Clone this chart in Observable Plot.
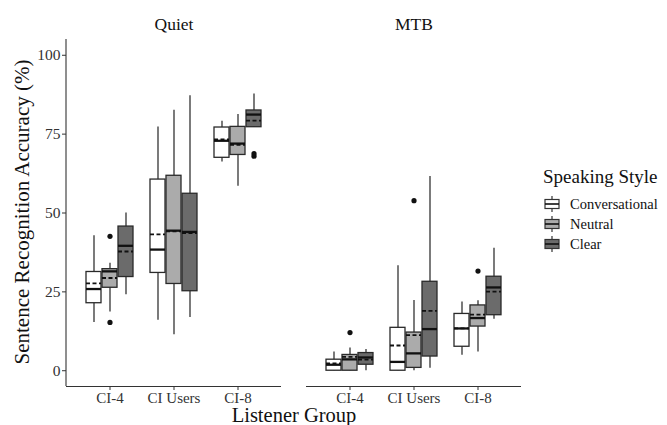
<!DOCTYPE html>
<html>
<head>
<meta charset="utf-8">
<script src="https://cdn.jsdelivr.net/npm/d3@7"></script>
<script src="https://cdn.jsdelivr.net/npm/@observablehq/plot@0.6"></script>
<style>
  body { margin: 0; background: #fff; }
  #wrap { position: relative; width: 667px; height: 425px; font-family: "Liberation Serif", "Times New Roman", serif; color: #111; }
  #wrap > svg { position: absolute; left: 0; top: 0; }
  .ytitle { position: absolute; left: 22px; top: 212px; transform: translate(-50%, -50%) rotate(-90deg); white-space: nowrap; font-size: 21px; line-height: 1; }
  .xtitle { position: absolute; left: 294px; top: 416px; transform: translate(-50%, -50%); white-space: nowrap; font-size: 20.5px; line-height: 0.85; }
  .legend { position: absolute; left: 543px; top: 166px; }
  .legend .ltitle { font-size: 19px; line-height: 22px; margin-bottom: 6px; white-space: nowrap; }
  .legend .row { display: flex; align-items: center; height: 20px; font-size: 14.5px; white-space: nowrap; }
  .legend .row svg { display: block; margin-left: 1px; margin-right: 10px; }
</style>
</head>
<body>
<div id="wrap"></div>
<script>
// ---- data ----
const conditions = ["Quiet", "MTB"];
const groups = ["CI-4", "CI Users", "CI-8"];
const styles = ["Conversational", "Neutral", "Clear"];
const styleFills = ["#ffffff", "#ababab", "#6b6b6b"];
const yTicks = [0, 25, 50, 75, 100];

// one value per box, ordered condition -> group -> style
const whiskerLow = [
  15.3, 18.6, 24.1,   16.0, 11.4, 16.9,   66.2, 58.5, 77.2,
  0, 0, 0,            0, 0, 0.8,          4.9, 5.9, 16.3
];
const q1 = [
  21.4, 26.3, 29.7,   31.0, 27.5, 25.2,   67.5, 68.4, 77.2,
  0, 0, 1.9,          0, 0.9, 4.5,        7.6, 14.0, 17.6
];
const median = [
  25.9, 31.5, 39.6,   38.4, 44.4, 44.0,   72.9, 72.0, 81.2,
  1.9, 3.6, 4.2,      2.8, 5.5, 13.2,     13.4, 16.7, 26.4
];
const q3 = [
  31.3, 32.2, 45.7,   60.6, 61.8, 56.1,   77.1, 77.3, 82.5,
  3.5, 5.0, 5.6,      13.6, 12.1, 28.2,   18.0, 20.7, 29.8
];
const whiskerHigh = [
  42.8, 34.1, 50.0,   77.3, 82.6, 87.2,   79.1, 81.2, 87.7,
  5.9, 7.2, 6.7,      33.3, 22.3, 61.6,   21.8, 22.2, 38.8
];
const mean = [
  27.7, 29.4, 37.8,   43.2, 44.2, 43.6,   73.3, 71.6, 79.3,
  2.3, 4.4, 3.5,      8.0, 11.3, 19.0,    13.4, 17.8, 25.1
];

// outliers
const outlierCondition = ["Quiet", "Quiet", "Quiet", "Quiet", "MTB", "MTB", "MTB"];
const outlierGroup = ["CI-4", "CI-4", "CI-8", "CI-8", "CI-4", "CI Users", "CI-8"];
const outlierStyle = ["Neutral", "Neutral", "Clear", "Clear", "Neutral", "Neutral", "Neutral"];
const outlierValue = [42.6, 15.3, 68.0, 68.8, 12.1, 53.9, 31.6];

// ---- build tables ----
const keyOf = (g, s) => `${g}|${s}`;
const xDomain = [];
groups.forEach((g, i) => {
  if (i) xDomain.push(`gap${i}`);
  styles.forEach(s => xDomain.push(keyOf(g, s)));
});
const tickKeys = groups.map(g => keyOf(g, styles[1]));

const boxes = d3.cross(conditions, groups, styles).map(([c, g, s], i) => ({
  condition: c, key: keyOf(g, s), style: s,
  lo: whiskerLow[i], q1: q1[i], median: median[i], q3: q3[i], hi: whiskerHigh[i], mean: mean[i]
}));
const outliers = outlierValue.map((v, i) => ({
  condition: outlierCondition[i], key: keyOf(outlierGroup[i], outlierStyle[i]), value: v
}));

const W = 667, H = 425, ML = 66, MR = 145, MT = 39, MB = 39;

const chart = Plot.plot({
  width: W, height: H,
  marginLeft: ML, marginRight: MR, marginTop: MT, marginBottom: MB,
  style: { fontFamily: "Liberation Serif, Times New Roman, serif", background: "transparent", color: "#111" },
  fx: { domain: conditions, paddingInner: 0.104, paddingOuter: 0, label: null },
  x: { type: "band", domain: xDomain, paddingInner: 0.06, paddingOuter: 0.9, label: null },
  y: { domain: [-5, 105], label: null },
  color: { domain: styles, range: styleFills },
  marks: [
    Plot.ruleY([-5], { stroke: "#333", strokeWidth: 1.1 }),
    Plot.axisFx({ anchor: "top", tickSize: 0, tickPadding: 10, fontSize: 17.5, label: null, fill: "#111" }),
    Plot.axisY({ ticks: yTicks, tickSize: 4, tickPadding: 2, fontSize: 15.5, label: null, stroke: "#333", fill: "#333" }),
    Plot.axisX({ ticks: tickKeys, tickFormat: d => d.split("|")[0], tickSize: 4, tickPadding: 1.5, fontSize: 15, label: null, stroke: "#333", fill: "#333" }),
    Plot.ruleX(boxes, { fx: "condition", x: "key", y1: "lo", y2: "hi", stroke: "#333", strokeWidth: 1.3 }),
    Plot.barY(boxes, { fx: "condition", x: "key", y1: "q1", y2: "q3", fill: "style", stroke: "#2a2a2a", strokeWidth: 1.3 }),
    Plot.tickY(boxes, { fx: "condition", x: "key", y: "median", stroke: "#111", strokeWidth: 2.3 }),
    Plot.tickY(boxes, { fx: "condition", x: "key", y: "mean", stroke: "#111", strokeWidth: 1.8, strokeDasharray: "4,2.5" }),
    Plot.dot(outliers, { fx: "condition", x: "key", y: "value", r: 2.6, fill: "#111", stroke: null })
  ]
});

// left axis line (only on the first panel)
d3.select(chart).append("line")
  .attr("x1", ML).attr("x2", ML)
  .attr("y1", MT).attr("y2", H - MB)
  .attr("stroke", "#333").attr("stroke-width", 1.1);

const wrap = document.getElementById("wrap");
wrap.appendChild(chart);

const yt = document.createElement("div");
yt.className = "ytitle"; yt.textContent = "Sentence Recognition Accuracy (%)";
wrap.appendChild(yt);
const xt = document.createElement("div");
xt.className = "xtitle"; xt.textContent = "Listener Group";
wrap.appendChild(xt);

// legend
const lg = document.createElement("div");
lg.className = "legend";
const lt = document.createElement("div");
lt.className = "ltitle"; lt.textContent = "Speaking Style";
lg.appendChild(lt);
styles.forEach((s, i) => {
  const row = document.createElement("div");
  row.className = "row";
  const g = d3.create("svg").attr("width", 16).attr("height", 18);
  g.append("line").attr("x1", 8).attr("x2", 8).attr("y1", 1).attr("y2", 17).attr("stroke", "#333").attr("stroke-width", 1.2);
  g.append("rect").attr("x", 1).attr("y", 4.5).attr("width", 14).attr("height", 9).attr("fill", styleFills[i]).attr("stroke", "#333").attr("stroke-width", 1.2);
  g.append("line").attr("x1", 1).attr("x2", 15).attr("y1", 9).attr("y2", 9).attr("stroke", "#111").attr("stroke-width", 1.6);
  row.appendChild(g.node());
  const t = document.createElement("span");
  t.textContent = s;
  row.appendChild(t);
  lg.appendChild(row);
});
wrap.appendChild(lg);
</script>
</body>
</html>
